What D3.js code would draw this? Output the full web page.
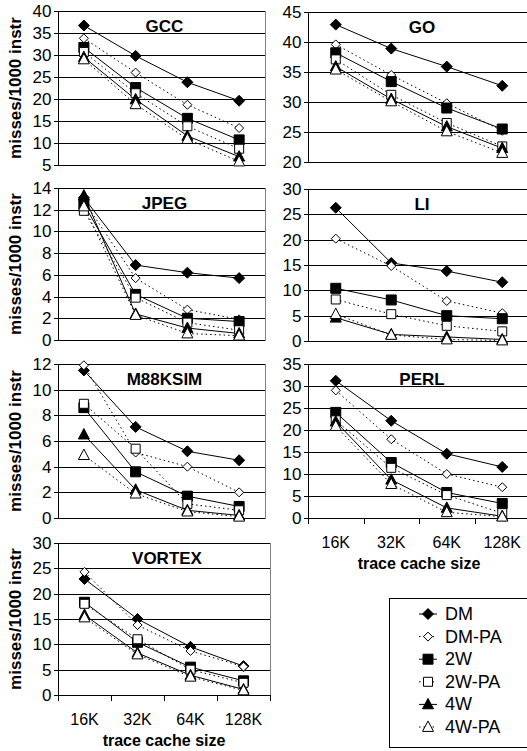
<!DOCTYPE html>
<html>
<head>
<meta charset="utf-8"/>
<title>Trace cache misses</title>
<script src="https://cdn.jsdelivr.net/npm/d3@7"></script>
<style>
  body { margin: 0; background: #fff; }
  svg text { font-family: "Liberation Sans", Arial, sans-serif; fill: #000; }
  .axis path { display: none; }
  .axis line { stroke: #000; shape-rendering: crispEdges; }
  .axis text { font-size: 17px; }
</style>
</head>
<body>
<div id="chart"></div>
<script>
// x categories and series (DM, DM-PA, 2W, 2W-PA, 4W, 4W-PA)
var categories = ["16K", "32K", "64K", "128K"];
var seriesNames = ["DM", "DM-PA", "2W", "2W-PA", "4W", "4W-PA"];

// misses per 1000 instructions, one row per series
var gcc = [
  [36.7, 29.8, 23.8, 19.6],
  [33.8, 26.0, 18.7, 13.4],
  [31.7, 22.6, 15.6, 10.7],
  [30.7, 21.3, 13.8, 8.7],
  [29.5, 19.9, 11.6, 6.9],
  [29.0, 18.8, 10.9, 5.8]
];
var go = [
  [42.9, 38.9, 35.9, 32.7],
  [39.6, 34.5, 29.8, 25.2],
  [38.2, 33.4, 29.0, 25.5],
  [37.1, 31.2, 26.5, 22.6],
  [35.9, 30.5, 25.9, 22.3],
  [35.4, 30.1, 25.1, 21.5]
];
var jpeg = [
  [13.1, 6.9, 6.2, 5.7],
  [12.8, 5.7, 2.8, 1.9],
  [12.5, 4.2, 2.0, 1.7],
  [11.9, 3.9, 1.6, 0.9],
  [13.3, 2.4, 1.1, 0.6],
  [12.3, 2.3, 0.6, 0.4]
];
var li = [
  [26.3, 15.4, 13.8, 11.6],
  [20.2, 14.8, 7.9, 5.5],
  [10.4, 8.1, 5.0, 4.4],
  [8.2, 5.3, 3.0, 1.9],
  [4.6, 1.3, 0.8, 0.3],
  [5.3, 1.2, 0.3, 0.1]
];
var m88ksim = [
  [11.5, 7.1, 5.2, 4.5],
  [11.9, 5.1, 4.0, 2.0],
  [8.6, 3.6, 1.7, 0.9],
  [8.9, 5.4, 1.1, 0.6],
  [6.5, 2.2, 0.6, 0.2],
  [4.9, 1.9, 0.5, 0.1]
];
var perl = [
  [31.2, 22.1, 14.6, 11.6],
  [29.0, 17.9, 10.0, 7.0],
  [24.0, 12.6, 5.8, 3.3],
  [22.2, 11.4, 5.2, 1.1],
  [21.9, 8.7, 2.3, 0.4],
  [20.9, 7.7, 1.3, 0.3]
];
var vortex = [
  [22.9, 15.0, 9.5, 5.7],
  [24.3, 13.8, 8.7, 5.6],
  [18.3, 10.4, 5.5, 2.8],
  [18.0, 11.0, 5.0, 2.4],
  [15.8, 8.3, 3.9, 1.1],
  [15.3, 8.0, 3.6, 0.9]
];

// y axis range and tick step per panel
var gccY = [5, 40, 5], goY = [20, 45, 5], jpegY = [0, 14, 2], liY = [0, 30, 5];
var m88ksimY = [0, 12, 2], perlY = [0, 35, 5], vortexY = [0, 30, 5];

var W = 527, H = 751;
var panels = [
  {title: "GCC", data: gcc, y: gccY, x0: 58, x1: 265, y0: 11, y1: 165, left: true},
  {title: "GO", data: go, y: goY, x0: 308, x1: 530, y0: 12, y1: 162},
  {title: "JPEG", data: jpeg, y: jpegY, x0: 58, x1: 265, y0: 188, y1: 340, left: true},
  {title: "LI", data: li, y: liY, x0: 308, x1: 530, y0: 189, y1: 341},
  {title: "M88KSIM", data: m88ksim, y: m88ksimY, x0: 58, x1: 265, y0: 364, y1: 518, left: true},
  {title: "PERL", data: perl, y: perlY, x0: 308, x1: 530, y0: 364, y1: 518, xaxis: true},
  {title: "VORTEX", data: vortex, y: vortexY, x0: 58, x1: 270, y0: 543, y1: 695, left: true, xaxis: true}
];

// marker shape per series: [shape, filled]
var markers = [["diamond", true], ["diamond", false], ["square", true],
               ["square", false], ["triangle", true], ["triangle", false]];

function markerPath(shape, filled) {
  if (shape == "diamond") {
    var r = filled ? 5.5 : 4.5;
    return "M0," + (-r) + "L" + r + ",0L0," + r + "L" + (-r) + ",0Z";
  }
  if (shape == "square") {
    var s = filled ? 5 : 4.5;
    return "M" + (-s) + "," + (-s) + "H" + s + "V" + s + "H" + (-s) + "Z";
  }
  var t = 5.5;
  return "M0," + (-t - 0.5) + "L" + t + "," + (t * 0.8) + "L" + (-t) + "," + (t * 0.8) + "Z";
}

var svg = d3.select("#chart").append("svg")
  .attr("width", W).attr("height", H);

svg.append("rect").attr("width", W).attr("height", H).attr("fill", "#fff");

panels.forEach(function(p) {
  var g = svg.append("g");
  var x = d3.scaleBand().domain(categories).range([p.x0, p.x1]);
  var y = d3.scaleLinear().domain([p.y[0], p.y[1]]).range([p.y1, p.y0]);
  var ticks = d3.range(p.y[0], p.y[1] + 0.001, p.y[2]);

  // plot area border
  g.append("rect")
    .attr("x", p.x0 + 0.5).attr("y", p.y0 + 0.5)
    .attr("width", p.x1 - p.x0).attr("height", p.y1 - p.y0)
    .attr("fill", "#fff").attr("stroke", "#808080");

  // gridlines
  g.selectAll(".grid").data(ticks).enter().append("line")
    .attr("x1", p.x0).attr("x2", p.x1)
    .attr("y1", function(d) { return Math.round(y(d)) + 0.5; })
    .attr("y2", function(d) { return Math.round(y(d)) + 0.5; })
    .attr("stroke", "#000");

  // y axis
  var yAxis = d3.axisLeft(y).tickValues(ticks).tickSize(5).tickPadding(2)
    .tickFormat(d3.format("d"));
  g.append("g").attr("class", "axis")
    .attr("transform", "translate(" + (p.x0 + 0.5) + ",0)")
    .call(yAxis);
  g.append("line")
    .attr("x1", p.x0 + 0.5).attr("x2", p.x0 + 0.5)
    .attr("y1", p.y0).attr("y2", p.y1 + 1)
    .attr("stroke", "#000");

  if (p.left) {
    g.append("text")
      .attr("transform", "translate(15," + ((p.y0 + p.y1) / 2) + ") rotate(-90)")
      .attr("text-anchor", "middle").attr("dominant-baseline", "central")
      .style("font-size", "17px").style("font-weight", "bold")
      .text("misses/1000 instr");
  }

  if (p.xaxis) {
    var edges = categories.map(function(c) { return x(c); }).concat([p.x1]);
    g.selectAll(".xt").data(edges).enter().append("line")
      .attr("x1", function(d) { return Math.round(d) + 0.5; })
      .attr("x2", function(d) { return Math.round(d) + 0.5; })
      .attr("y1", p.y1).attr("y2", p.y1 + 6)
      .attr("stroke", "#000");
    g.selectAll(".xl").data(categories).enter().append("text")
      .attr("x", function(d) { return x(d) + x.bandwidth() / 2; })
      .attr("y", p.y1 + 30)
      .attr("text-anchor", "middle").style("font-size", "16px")
      .text(function(d) { return d; });
    g.append("text")
      .attr("x", (p.x0 + p.x1) / 2).attr("y", p.y1 + 51)
      .attr("text-anchor", "middle")
      .style("font-size", "16px").style("font-weight", "bold")
      .text("trace cache size");
  }

  // bottom axis line
  g.append("line")
    .attr("x1", p.x0).attr("x2", p.x1)
    .attr("y1", p.y1 + 0.5).attr("y2", p.y1 + 0.5)
    .attr("stroke", "#000");

  g.append("text")
    .attr("x", (p.x0 + p.x1) / 2 + 3).attr("y", p.y0 + 21)
    .attr("text-anchor", "middle")
    .style("font-size", "17px").style("font-weight", "bold")
    .text(p.title);

  var line = d3.line()
    .x(function(d, i) { return x(categories[i]) + x.bandwidth() / 2; })
    .y(function(d) { return y(d); });

  p.data.forEach(function(vals, si) {
    g.append("path")
      .attr("d", line(vals))
      .attr("fill", "none").attr("stroke", "#000").attr("stroke-width", 1)
      .attr("stroke-dasharray", si % 2 ? "1.5,3" : null);
  });
  p.data.forEach(function(vals, si) {
    var m = markers[si];
    g.selectAll(".m" + si).data(vals).enter().append("path")
      .attr("transform", function(d, i) {
        return "translate(" + (x(categories[i]) + x.bandwidth() / 2) + "," + y(d) + ")";
      })
      .attr("d", markerPath(m[0], m[1]))
      .attr("fill", m[1] ? "#000" : "#fff")
      .attr("stroke", "#000").attr("stroke-width", 1);
  });
});

// legend
var lg = svg.append("g").attr("transform", "translate(389,598)");
lg.append("rect").attr("x", 0.5).attr("y", 0.5).attr("width", 140).attr("height", 149)
  .attr("fill", "#fff").attr("stroke", "#000");
seriesNames.forEach(function(name, i) {
  var cy = 16 + i * 22.6;
  lg.append("line").attr("x1", 30).attr("x2", 48).attr("y1", cy).attr("y2", cy)
    .attr("stroke", "#000").attr("stroke-dasharray", i % 2 ? "1.5,3" : null);
  lg.append("path").attr("transform", "translate(39," + cy + ")")
    .attr("d", markerPath(markers[i][0], markers[i][1]))
    .attr("fill", markers[i][1] ? "#000" : "#fff").attr("stroke", "#000");
  lg.append("text").attr("x", 56).attr("y", cy)
    .attr("dominant-baseline", "central").style("font-size", "18px")
    .text(name);
});
</script>
</body>
</html>
